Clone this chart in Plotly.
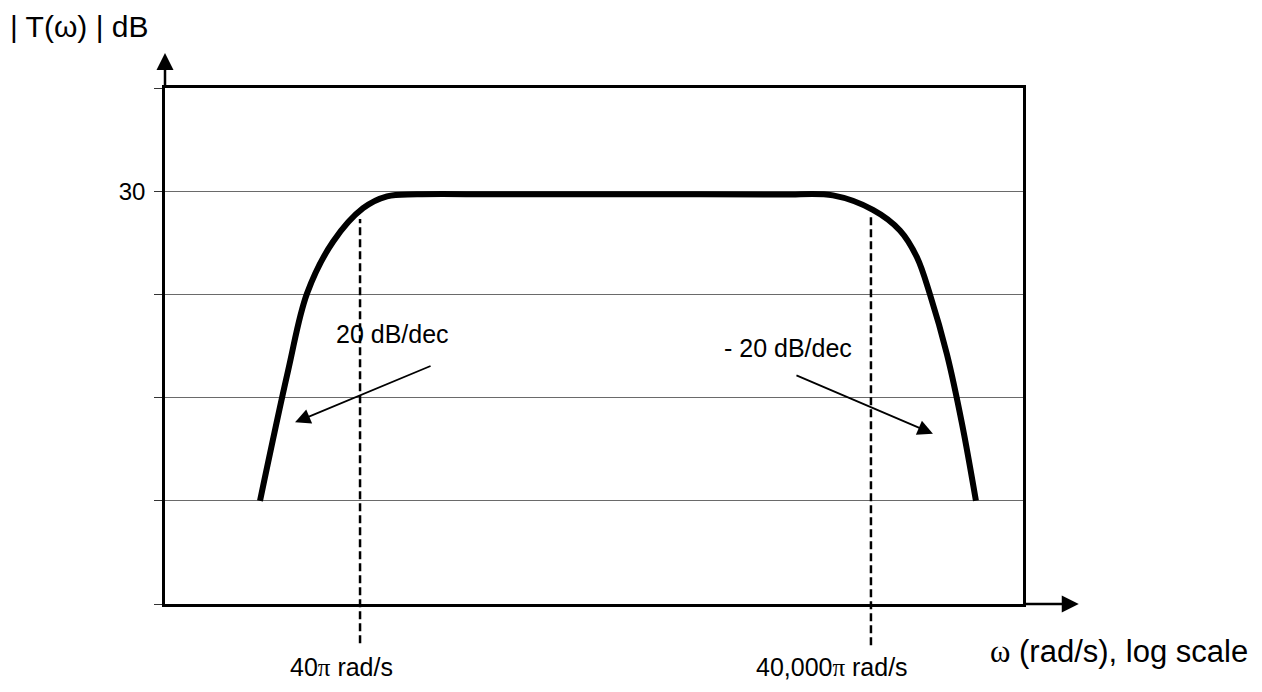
import numpy as np
import plotly.graph_objects as go

# ---- data ----
omega = [32.5, 47.5, 61.4, 87.2, 130.9, 181, 272, 834, 12450, 38000,
         75200, 129100, 186000, 234000, 279000, 351000, 430000, 519600]
gain_db = [0, 12.6, 20.1, 25.1, 28.35, 29.5, 29.7, 29.7, 29.7, 29.68,
           29.6, 28.2, 26.2, 23.6, 20.0, 14.2, 7.5, 0]

corner_omega = [40 * np.pi, 40000 * np.pi]
corner_top_db = [27.3, 27.6]
corner_labels = ["40<span style='font-family:Liberation Serif'>π</span> rad/s",
                 "40,000<span style='font-family:Liberation Serif'>π</span> rad/s"]

y_ticks = [-10, 0, 10, 20, 30, 40]
y_ticktext = ["", "", "", "", "30", ""]

slope_labels = ["20 dB/dec", "- 20 dB/dec"]
slope_label_omega = [193.7, 40900]
slope_label_db = [16.2, 14.8]
slope_tip_omega = [52.2, 290600]
slope_tip_db = [7.6, 6.5]

X_RANGE = [0.954, 5.992]
Y_RANGE = [-10, 40]
FONT = "Liberation Sans, Arial, sans-serif"
SERIF = "Liberation Serif"

fig = go.Figure()
fig.add_trace(go.Scatter(
    x=omega, y=gain_db, mode="lines",
    line=dict(color="black", width=6, shape="spline", smoothing=1.0),
    hoverinfo="skip", showlegend=False))


def to_paper(db):
    return (db - Y_RANGE[0]) / (Y_RANGE[1] - Y_RANGE[0])


# dashed corner-frequency lines
for w, d, yb in zip(corner_omega, corner_top_db, [-0.076, -0.08]):
    fig.add_shape(type="line", xref="x", yref="paper",
                  x0=w, x1=w, y0=yb, y1=to_paper(d),
                  line=dict(color="black", width=2.5, dash="8px,4px"))

annotations = []
for txt, lw, ld, tw, td, ax, ay in zip(slope_labels, slope_label_omega, slope_label_db,
                                       slope_tip_omega, slope_tip_db,
                                       [137, -138], [-57, -59]):
    annotations.append(dict(x=np.log10(lw), y=ld, xref="x", yref="y", text=txt,
                            showarrow=False, font=dict(size=25, color="black", family=FONT)))
    annotations.append(dict(x=np.log10(tw), y=td, xref="x", yref="y", text="",
                            showarrow=True, ax=ax, ay=ay, arrowhead=2, arrowsize=1.7,
                            arrowwidth=1.8, arrowcolor="black"))

# corner-frequency labels
for w, txt, xs in zip(corner_omega, corner_labels, [35, 39]):
    annotations.append(dict(x=np.log10(w), y=-0.122, xref="x", yref="paper",
                            xanchor="right", yanchor="middle", xshift=xs, text=txt,
                            showarrow=False, font=dict(size=25, color="black", family=FONT)))

# axis arrows
annotations.append(dict(x=0, y=1.068, xref="paper", yref="paper", text="", showarrow=True,
                        ax=0, ay=35, arrowhead=2, arrowsize=1.36, arrowwidth=2.5,
                        arrowcolor="black"))
annotations.append(dict(x=1.065, y=0, xref="paper", yref="paper", text="", showarrow=True,
                        ax=-56, ay=0, arrowhead=2, arrowsize=1.36, arrowwidth=2.5,
                        arrowcolor="black"))

# axis titles
annotations.append(dict(x=-0.183, y=1.155, xref="paper", yref="paper", xanchor="left",
                        yanchor="top", text="| T(ω) | dB", showarrow=False,
                        font=dict(size=30, color="black", family=FONT)))
annotations.append(dict(x=1.2646, y=-0.093, xref="paper", yref="paper", xanchor="right",
                        yanchor="middle",
                        text=f"<span style='font-family:{SERIF}'>ω</span> (rad/s), log scale",
                        showarrow=False, font=dict(size=31, color="black", family=FONT)))

fig.update_layout(
    width=1254, height=684,
    margin=dict(l=157, r=239, t=80, b=88),
    paper_bgcolor="white", plot_bgcolor="white",
    showlegend=False,
    annotations=annotations,
    font=dict(family=FONT, color="black"),
    xaxis=dict(type="log", range=X_RANGE, showgrid=False, zeroline=False,
               showline=True, linecolor="black", linewidth=2.5, mirror=True,
               showticklabels=False, ticks=""),
    yaxis=dict(range=Y_RANGE, showgrid=True, gridcolor="#6a6a6a", gridwidth=1.2,
               zeroline=False, showline=True, linecolor="black", linewidth=2.5, mirror=True,
               tickvals=y_ticks, ticktext=y_ticktext, ticks="outside", ticklen=8,
               tickcolor="#333333", tickwidth=1, ticklabelstandoff=4,
               tickfont=dict(size=24, color="black", family=FONT)),
)

fig.write_html("out.html")
